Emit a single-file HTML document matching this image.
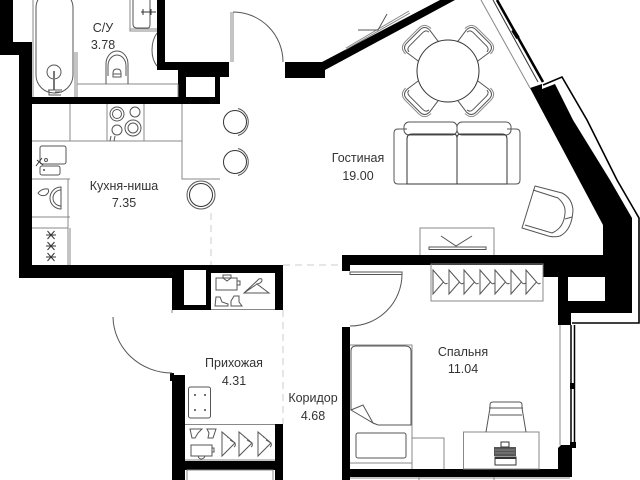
<!DOCTYPE html>
<html><head><meta charset="utf-8"><style>
html,body{margin:0;padding:0;background:#fff;width:640px;height:480px;overflow:hidden}
svg{display:block}
text{font-family:"Liberation Sans","Noto Sans CJK SC",sans-serif;font-size:12.5px;fill:#333;text-anchor:middle}
.l{fill:none;stroke:#555;stroke-width:1}
.g{fill:none;stroke:#888;stroke-width:1}
.d{fill:none;stroke:#333;stroke-width:1}
.dash{fill:none;stroke:#ccc;stroke-width:1;stroke-dasharray:7 5}
</style></head><body>
<svg width="640" height="480" viewBox="0 0 640 480" xmlns="http://www.w3.org/2000/svg">
<defs>
<g id="hanger"><path class="l" d="M0 0V24L10.500 12ZM10.500 12q2 3 4 1"/></g>
<g id="hanger2"><path class="l" d="M0 0V24L13 11ZM5 5q2 0 0 0M8 8L13 11q1 3 -1 4"/></g>
<g id="chair"><path class="l" d="M-14 -28L-16 -42Q-16 -49 -9 -49H9Q16 -49 16 -42L14 -28"/><path class="g" d="M-18 -42Q-18 -51 -9 -51H9Q18 -51 18 -42"/><path class="l" d="M-14 -41Q-14 -45 -9 -45H9Q14 -45 14 -41"/></g>
<g id="stool"><circle class="d" r="11.5"/><path class="l" d="M3 -13.5A14 14 0 0 1 3 13.5"/></g>
<g id="star"><path class="d" d="M-5 0H5M-3.5 -4L3.5 4M3.5 -4L-3.5 4" stroke-width=".9"/></g>
</defs>

<!-- dashed room boundaries -->
<path class="dash" d="M211 213V265M283 265H342M283 310V424"/>

<!-- walls -->
<g fill="#000">
<path d="M0 0H13V42H32V97H220V104H32V265H172V278H19V55H0Z"/>
<path d="M157 0H165V62H229V77H220V104H178V70H157ZM186 77V99H215V77Z" fill-rule="evenodd"/>
<path d="M285 62H320L322 62L440 0H455L325 70V78H285Z"/>
<path fill-rule="evenodd" d="M172 265H283V310H275V273H211V310H172ZM184 270V305H206V270Z"/>
<rect x="172" y="375" width="13" height="105"/>
<rect x="170" y="373" width="4" height="8"/>
<rect x="185" y="461" width="98" height="9"/>
<rect x="275" y="424" width="8" height="56"/>
<path fill-rule="evenodd" d="M530 88L542 84L542 89L555 84L573 120L610 180L632 218V313H571V325H558V277H543V265H350V271H342V255H603V225ZM568 277V301H605V277Z"/>
<rect x="342" y="327" width="8" height="153"/>
<rect x="350" y="469" width="210" height="8"/>
<path d="M558 448L561 445H572V477H558Z"/>
</g>

<!-- outer facade and window -->
<path d="M543 85L562 77L587 120L617 180L639 218V323H572" fill="none" stroke="#000" stroke-width="1.6"/>
<path d="M497 0L543 82" fill="none" stroke="#000" stroke-width="2.600"/>
<path d="M493 0L538 82" fill="none" stroke="#333" stroke-width="1"/>
<path d="M481 0L530 88" class="g"/>
<path d="M513 30L518 38" stroke="#000" stroke-width="4"/>
<path class="g" d="M560 325V445"/>
<path d="M571 325V445M574.500 325V445" stroke="#000" stroke-width="1.500" fill="none"/>
<rect x="570" y="383" width="5" height="6" fill="#000"/>
<rect x="570" y="442" width="6" height="6" fill="#000"/>

<!-- balcony door on diagonal wall -->
<path class="g" d="M345 50L410 13M346 48L409 11"/>
<path class="l" d="M358 30H378L387 14"/>

<!-- bathroom -->
<path class="g" d="M33 0V97M77 52V97M75 52V97M77 84H178M178 84V97"/>
<rect class="l" x="36" y="-10" width="37" height="103" rx="18"/>
<circle class="l" cx="54" cy="72" r="7"/>
<path d="M54 71V90" stroke="#777" stroke-width="2"/>
<path class="l" d="M48 90H62M49 90V95H61M55 92H62"/>
<path class="l" d="M106 84V64A11 13 0 0 1 128 64V84"/>
<path class="l" d="M108 76V66A9 11 0 0 1 126 66V76"/>
<path class="l" d="M113 77V73Q113 69 117 69Q121 69 121 73V77ZM113 74H121"/>
<path class="g" d="M130 0V31H157M130 29H157"/>
<path class="l" d="M133 0V24Q133 28 137 28H148Q150 28 150 24V0"/>
<path class="d" d="M141 12H156M143 9V15M151 9V15"/>
<path class="l" d="M157 33Q152 40 152 50Q152 60 157 66"/>

<!-- kitchen -->
<path class="g" d="M32 141H182V179H220M182 104V179M70 104V141M107 104V141M144 104V141M32 179H70M32 217H70M32 228H68M68 179V265M70 228V265"/>
<circle class="l" cx="117" cy="114" r="7"/><circle class="l" cx="117" cy="114" r="4.500"/>
<circle class="l" cx="135" cy="112" r="5"/>
<circle class="l" cx="117" cy="130" r="5"/>
<circle class="l" cx="133" cy="128" r="8"/><circle class="l" cx="133" cy="128" r="5"/>
<path class="l" d="M110 141L111 136M114 141L115 136"/>
<rect class="l" x="40" y="146" width="26" height="18" rx="2"/>
<rect class="l" x="40" y="166" width="20" height="9" rx="2"/>
<path class="d" d="M36 166L42 158M37 160L43 165"/>
<circle class="l" cx="46" cy="160" r="1.500"/>
<rect x="43" y="169" width="2" height="2" fill="#777"/>
<path class="l" d="M61 187V209A11 11 0 0 1 61 187Z"/>
<path class="l" d="M61 190A8 8 0 0 0 61 206"/>
<path class="l" d="M38 193Q42 188 48 189Q50 192 46 195Q41 197 38 193Z"/>
<use href="#star" x="51" y="235"/><use href="#star" x="51" y="246"/><use href="#star" x="51" y="257"/>
<use href="#stool" x="235" y="122"/><use href="#stool" x="235" y="162"/><g transform="translate(201 195)"><circle class="d" r="11.5"/><circle class="l" r="14"/></g>

<!-- door 1 -->
<path class="g" d="M231 12V62M233 12V62"/>
<path class="l" d="M233 12A50 50 0 0 1 283 62"/>

<!-- living: table + chairs -->
<circle class="d" cx="448" cy="71" r="31"/>
<use href="#chair" transform="translate(448 71) rotate(-45)"/>
<use href="#chair" transform="translate(448 71) rotate(45)"/>
<use href="#chair" transform="translate(448 71) rotate(135)"/>
<use href="#chair" transform="translate(448 71) rotate(-135)"/>

<!-- sofa -->
<path class="l" d="M407 129H398Q394 129 394 133V180Q394 184 398 184H407"/>
<path class="l" d="M507 129H516Q520 129 520 133V180Q520 184 516 184H507"/>
<rect class="l" x="404" y="122" width="53" height="13" rx="5"/>
<rect class="l" x="457" y="122" width="54" height="13" rx="5"/>
<path class="d" d="M407 184V139Q407 134 412 134H453Q457 134 457 138V184ZM457 184V138Q457 134 461 134H502Q507 134 507 139V184Z"/>

<!-- armchair -->
<path class="l" d="M535 186L522 228L545 235Q553 238 560 236Q572 230 573 210Q572 198 562 193Z" stroke-linejoin="round"/>
<path class="l" d="M533 190L558 198Q566 205 565 213Q564 228 552 233L525 225"/>
<path class="l" d="M565 219L572 217"/>

<!-- tv unit -->
<path class="g" d="M420 255V228H494V255"/>
<rect class="l" x="429" y="247" width="57" height="2.500"/>
<path class="l" d="M441 236L456 246L472 236"/>

<!-- closet 1 -->
<path class="g" d="M211 309.500H275"/>
<rect class="l" x="216" y="278" width="21" height="12"/>
<path class="l" d="M223 278V275H231V278M223 278L227 281L231 278M237 281H240V285H237"/>
<path class="l" d="M244 293H269L257 284Q262 283 262 280Q262 278 259 279ZM244 293L257 284"/>
<path class="l" d="M216 297H220L222 302L228 304V306H215Z"/>
<path class="l" d="M234 296H239V302L242 306H231V301Z"/>

<!-- hallway -->
<path class="l" d="M113 317A59 57 0 0 0 172 373"/>
<path class="g" d="M172 310V313"/>
<rect class="l" x="188.500" y="387" width="22" height="31" rx="2"/>
<g fill="#444"><circle cx="195" cy="395" r="1"/><circle cx="205" cy="395" r="1"/><circle cx="195" cy="410" r="1"/><circle cx="205" cy="410" r="1"/></g>

<!-- closet 2 -->
<path class="g" d="M185 424.500H275M185 460H275"/>
<path class="l" d="M190 429H202L198 433L195 438H192Z"/>
<path class="l" d="M207 429H216L213 438H208L209 433Z"/>
<rect class="l" x="191" y="445" width="21" height="11"/>
<path class="l" d="M198 456Q199 459 201 459Q204 459 205 456M212 448H214V452H212"/>
<use href="#hanger2" x="222" y="432"/><use href="#hanger2" x="239" y="432"/><use href="#hanger2" x="258" y="432"/>
<rect class="g" x="187" y="470" width="86" height="12" fill="#fff"/>

<!-- bedroom door + closet -->
<rect class="l" x="350" y="272" width="52" height="2.500"/>
<path class="l" d="M402 274A52 52 0 0 1 350 326"/>
<rect class="g" x="431" y="264" width="112" height="37" fill="#fff"/>
<use href="#hanger" x="433" y="270"/><use href="#hanger" x="449" y="270"/><use href="#hanger" x="464" y="270"/><use href="#hanger" x="480" y="270"/><use href="#hanger" x="495" y="270"/><use href="#hanger" x="511" y="270"/><use href="#hanger" x="526" y="270"/>

<!-- bed -->
<path class="g" d="M350 345H412V469M350 463H412"/>
<path class="l" d="M351 410V351Q351 346 356 346H405Q411 346 411 351V425H378L373 423"/>
<path class="l" d="M351 410L363 405L373 423Z"/>
<rect class="l" x="356" y="433" width="50" height="25" rx="2"/>
<path class="g" d="M412 438H444V469"/>

<!-- desk, chair, typewriter -->
<rect class="g" x="463.500" y="432" width="75.500" height="37"/>
<path class="l" d="M486 432L490 408V405Q490 402 493 402H519Q522 402 522 405V408L526 432M490 415H522M489 408H523"/>
<rect x="494" y="447" width="22" height="9" fill="#555"/>
<path d="M495 450H515M495 453H515" stroke="#999" stroke-width=".7"/>
<rect class="d" x="501" y="442" width="8" height="5"/>
<rect class="d" x="495" y="457" width="21" height="8"/>
<rect x="495" y="457" width="21" height="2" fill="#333"/>

<!-- below bedroom -->
<path class="g" d="M350 478H570M419 477V480M494 477V480"/>

<!-- labels -->
<text x="103" y="32">С/У</text><text x="103" y="49">3.78</text>
<text x="124" y="190">Кухня-ниша</text><text x="124" y="207">7.35</text>
<text x="358" y="162">Гостиная</text><text x="358" y="180">19.00</text>
<text x="234" y="367">Прихожая</text><text x="234" y="385">4.31</text>
<text x="313" y="402">Коридор</text><text x="313" y="420">4.68</text>
<text x="463" y="356">Спальня</text><text x="463" y="373">11.04</text>
</svg>
</body></html>
